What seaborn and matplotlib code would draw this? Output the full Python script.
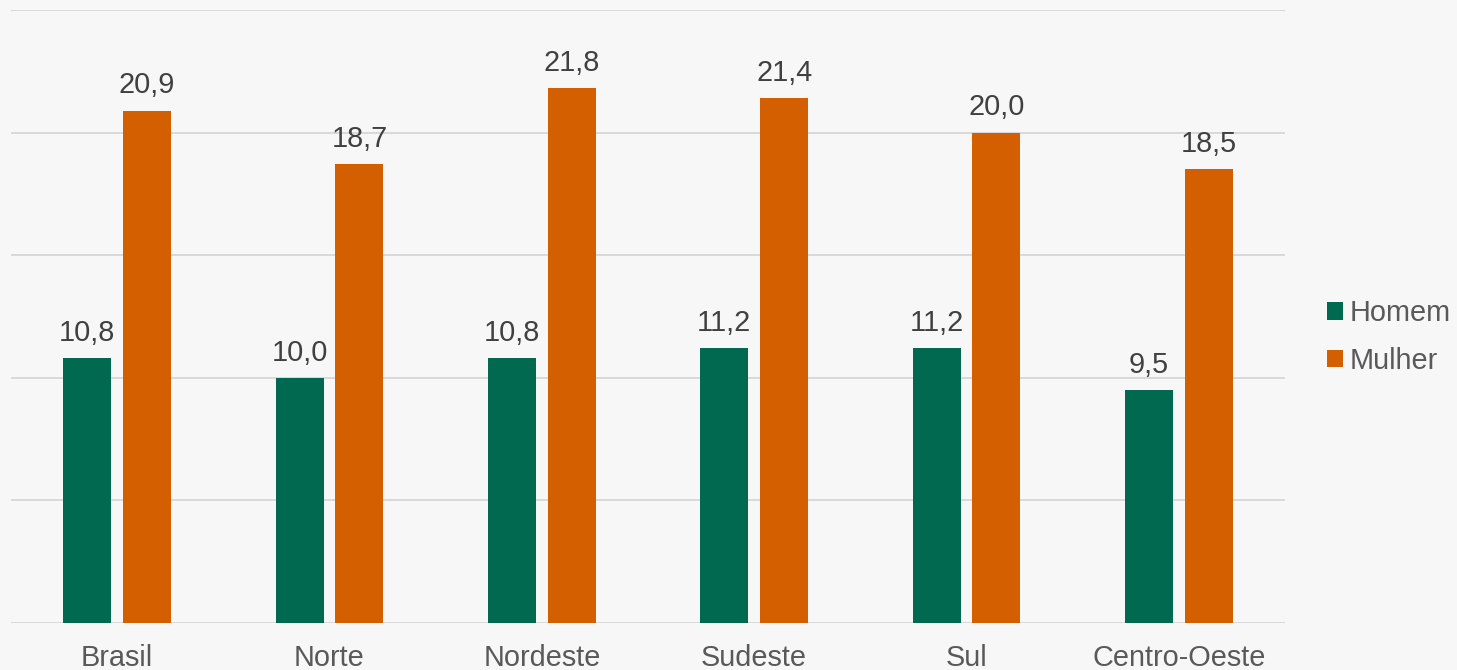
import numpy as np
import pandas as pd
import seaborn as sns
import matplotlib.pyplot as plt

regioes = ['Brasil', 'Norte', 'Nordeste', 'Sudeste', 'Sul', 'Centro-Oeste']
homem = [10.8, 10.0, 10.8, 11.2, 11.2, 9.5]
mulher = [20.9, 18.7, 21.8, 21.4, 20.0, 18.5]
sexos = ['Homem', 'Mulher']

custom_palette = ['#006950', '#D35F00']
bg = '#F7F7F7'

df = pd.DataFrame({
    'regiao': regioes * 2,
    'sexo': ['Homem'] * len(regioes) + ['Mulher'] * len(regioes),
    'valor': homem + mulher,
})

sns.set_theme(style='white')
plt.rcParams['font.family'] = ['Liberation Sans', 'DejaVu Sans']

fig = plt.figure(figsize=(14.57, 6.70), dpi=100, facecolor=bg)
ax = fig.add_axes([11 / 1457, 47 / 670, 1274 / 1457, 613 / 670])
ax.set_facecolor(bg)

sns.barplot(data=df, x='regiao', y='valor', hue='sexo', hue_order=sexos,
            palette=custom_palette, width=0.565, gap=0.2, linewidth=0,
            saturation=1, ax=ax)

ax.set_xlim(-0.5, 5.5)
ax.set_ylim(0, 25)
ax.set_yticks(np.arange(0, 26, 5))
ax.set_yticklabels([])
ax.grid(axis='y', color='#D9D9D9', linewidth=1.4)
ax.set_axisbelow(True)
for s in ax.spines.values():
    s.set_visible(False)
ax.set_xlabel('')
ax.set_ylabel('')
ax.tick_params(axis='x', length=0, pad=15, labelsize=20.8, labelcolor='#595959')
ax.tick_params(axis='y', length=0)

for cont in ax.containers:
    vals = [b.get_height() for b in cont]
    ax.bar_label(cont, labels=[f'{v:.1f}'.replace('.', ',') for v in vals],
                 padding=8, fontsize=20.8, color='#404040')

sns.move_legend(ax, loc='center left', bbox_to_anchor=(1327 / 1457, 1 - 337 / 670),
                bbox_transform=fig.transFigure, frameon=False, title=None,
                fontsize=20.8, handlelength=0.55, handleheight=0.55,
                handletextpad=0.25, labelspacing=0.68, borderpad=0, borderaxespad=0)
for t in ax.get_legend().get_texts():
    t.set_color('#595959')

plt.savefig('out.png', dpi=100, facecolor=bg)
plt.close()
